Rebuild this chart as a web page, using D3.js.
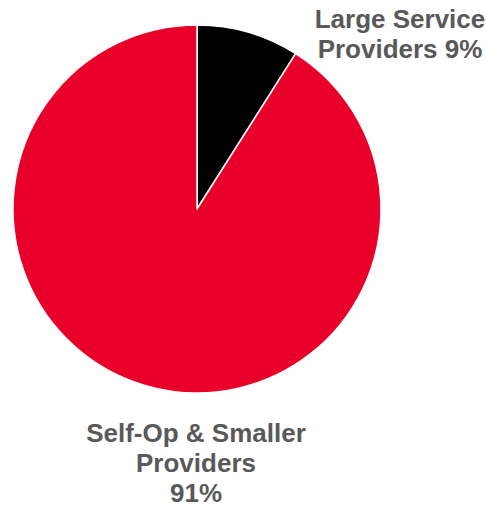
<!DOCTYPE html>
<html>
<head>
<meta charset="utf-8">
<script src="https://cdn.jsdelivr.net/npm/d3@7/dist/d3.min.js"></script>
<style>
  html, body { margin: 0; padding: 0; background: #fff; }
  svg { display: block; }
  text { font-family: "Liberation Sans", Arial, sans-serif; font-weight: bold; fill: #595959; }
</style>
</head>
<body>
<svg id="chart" width="487" height="507"></svg>
<script>
// Market share by provider type
const categories = ["Large Service Providers", "Self-Op & Smaller Providers"];
const shares = [9, 91];
const colors = ["#000000", "#E8002B"];
// Label lines for each slice
const labelLines = [
  ["Large Service", "Providers 9%"],
  ["Self-Op & Smaller", "Providers", "91%"]
];

const svg = d3.select("#chart");
const cx = 197, cy = 209, radius = 184;

const pie = d3.pie().sort(null).value(d => d.value);
const arc = d3.arc().innerRadius(0).outerRadius(radius);
const data = categories.map((c, i) => ({ name: c, value: shares[i], color: colors[i] }));

const g = svg.append("g").attr("transform", `translate(${cx},${cy})`);
g.selectAll("path")
  .data(pie(data))
  .join("path")
  .attr("d", arc)
  .attr("fill", d => d.data.color)
  .attr("stroke", "#ffffff")
  .attr("stroke-width", 1.5)
  .attr("stroke-linejoin", "round");

// Slice labels placed outside the pie
const labelPos = [
  { x: 400, y: 28 },
  { x: 196, y: 442 }
];
const lineHeight = 30;
labelLines.forEach((lines, i) => {
  const t = svg.append("text")
    .attr("text-anchor", "middle")
    .attr("font-size", 26)
    .attr("x", labelPos[i].x)
    .attr("y", labelPos[i].y);
  lines.forEach((ln, j) => {
    t.append("tspan")
      .attr("x", labelPos[i].x)
      .attr("dy", j === 0 ? 0 : lineHeight)
      .text(ln);
  });
});
</script>
</body>
</html>
